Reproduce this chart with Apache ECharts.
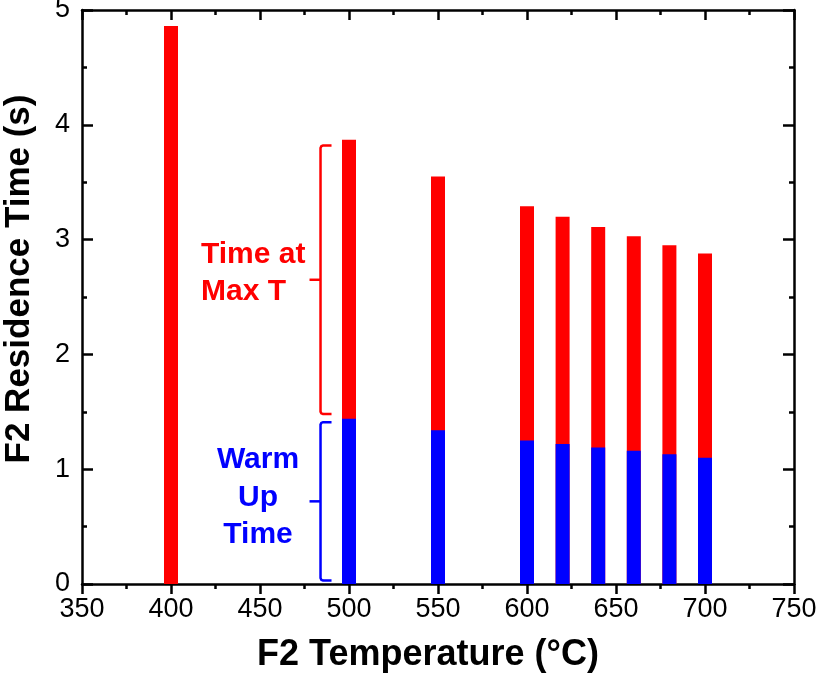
<!DOCTYPE html>
<html>
<head>
	<meta charset="UTF-8">
	<title>F2 Residence Time</title>
	<script src="https://cdn.jsdelivr.net/npm/echarts@6/dist/echarts.min.js"></script>
	<style>
		html, body { margin: 0; padding: 0; background: #fff; }
		#main { width: 816px; height: 682px; }
	</style>
</head>
<body>
	<div id="main"></div>
	<script>

	// data
	var temps = [400, 500, 550, 600, 620, 640, 660, 680, 700];
	var warmUp = [0, 1.44, 1.34, 1.25, 1.22, 1.19, 1.16, 1.13, 1.10];
	// top of each bar (warm up + time at max T)
	var totalTime = [4.86, 3.87, 3.55, 3.29, 3.20, 3.11, 3.03, 2.95, 2.88];
	// bracket spans: [x, yFrom, yTo]
	var bracketMax = [484, 1.48, 3.82];
	var bracketWarm = [484, 0.03, 1.41];

	var xMin = 350, xMax = 750, xStep = 50;
	var yMin = 0, yMax = 5, yStep = 1;

	var FONT = 'Liberation Sans, Arial, Helvetica, sans-serif';
	var RED = '#ff0000', BLUE = '#0000ff';

	function pairs(xs, ys) {
		var out = [];
		for (var i = 0; i < xs.length; i++) {
			out.push([xs[i], ys[i]]);
		}
		return out;
	}

	function bracketItem(color) {
		return function(params, api) {
			var a = api.coord([api.value(0), api.value(1)]);
			var b = api.coord([api.value(0), api.value(2)]);
			var px = a[0], yb = a[1], yt = b[1], ym = (yb + yt) / 2;
			var hook = 11, tip = 11;
			return {
				type: 'group',
				children: [{
					type: 'polyline',
					shape: {
						points: [[px + hook, yt], [px + 2.5, yt], [px + 0.8, yt + 0.8], [px, yt + 2.5],
							[px, yb - 2.5], [px + 0.8, yb - 0.8], [px + 2.5, yb], [px + hook, yb]]
					},
					style: { stroke: color, fill: null, lineWidth: 2.5 }
				}, {
					type: 'line',
					shape: { x1: px, y1: ym, x2: px - tip, y2: ym },
					style: { stroke: color, lineWidth: 2.5 }
				}]
			};
		};
	}

	var axisLine = { show: true, onZero: false, lineStyle: { color: '#000', width: 2.5 } };

	var option = {
		animation: false,
		backgroundColor: '#fff',
		grid: { left: 82, right: 22, top: 10, bottom: 98, containLabel: false, outerBoundsMode: 'none' },
		xAxis: [{
			type: 'value', position: 'bottom', min: xMin, max: xMax, interval: xStep,
			name: 'F2 Temperature (°C)', nameLocation: 'middle', nameGap: 53,
			nameTextStyle: { fontFamily: FONT, fontWeight: 'bold', fontSize: 36, color: '#000', padding: [0, 20, 0, 0] },
			axisLine: axisLine,
			axisTick: { show: true, inside: false, length: 10, lineStyle: { color: '#000', width: 2.5 } },
			minorTick: { show: true, splitNumber: 2, length: 5, lineStyle: { color: '#000', width: 2.5 } },
			axisLabel: { fontFamily: FONT, fontSize: 27, color: '#000', margin: 12 },
			splitLine: { show: false }
		}, {
			type: 'value', position: 'top', min: xMin, max: xMax, interval: xStep,
			axisLine: axisLine,
			axisTick: { show: true, inside: true, length: 10, lineStyle: { color: '#000', width: 2.5 } },
			minorTick: { show: true, splitNumber: 2, length: 5, lineStyle: { color: '#000', width: 2.5 } },
			axisLabel: { show: false },
			splitLine: { show: false }
		}],
		yAxis: [{
			type: 'value', position: 'left', min: yMin, max: yMax, interval: yStep,
			name: 'F2 Residence Time (s)', nameLocation: 'middle', nameGap: 45,
			nameTextStyle: { fontFamily: FONT, fontWeight: 'bold', fontSize: 35, color: '#000', padding: [0, 0, 0, 36] },
			axisLine: axisLine,
			axisTick: { show: true, inside: true, length: 11, lineStyle: { color: '#000', width: 2.5 } },
			minorTick: { show: true, splitNumber: 2, length: 5, lineStyle: { color: '#000', width: 2.5 } },
			axisLabel: { fontFamily: FONT, fontSize: 27, color: '#000', margin: 12 },
			splitLine: { show: false }
		}, {
			type: 'value', position: 'right', min: yMin, max: yMax, interval: yStep,
			axisLine: axisLine,
			axisTick: { show: true, inside: true, length: 11, lineStyle: { color: '#000', width: 2.5 } },
			minorTick: { show: true, splitNumber: 2, length: 5, lineStyle: { color: '#000', width: 2.5 } },
			axisLabel: { show: false },
			splitLine: { show: false }
		}],
		series: [{
			name: 'Time at Max T',
			type: 'bar',
			barWidth: 14,
			barGap: '-100%',
			itemStyle: { color: RED },
			data: pairs(temps, totalTime)
		}, {
			name: 'Warm Up Time',
			type: 'bar',
			barWidth: 14,
			barGap: '-100%',
			itemStyle: { color: BLUE },
			data: pairs(temps, warmUp)
		}, {
			type: 'custom',
			renderItem: bracketItem(RED),
			encode: { x: 0, y: [1, 2] },
			data: [bracketMax],
			silent: true
		}, {
			type: 'custom',
			renderItem: bracketItem(BLUE),
			encode: { x: 0, y: [1, 2] },
			data: [bracketWarm],
			silent: true
		}],
		graphic: [{
			type: 'text', left: 201, top: 236,
			style: {
				text: 'Time at\nMax T', fill: RED, font: 'bold 30px ' + FONT,
				lineHeight: 37, textAlign: 'left'
			}
		}, {
			type: 'text', x: 258, y: 441,
			style: {
				text: 'Warm\nUp\nTime', fill: BLUE, font: 'bold 30px ' + FONT,
				lineHeight: 37.5, textAlign: 'center'
			}
		}]
	};

	var myChart = echarts.init(document.getElementById('main'));
	myChart.setOption(option);

	</script>
</body>
</html>
